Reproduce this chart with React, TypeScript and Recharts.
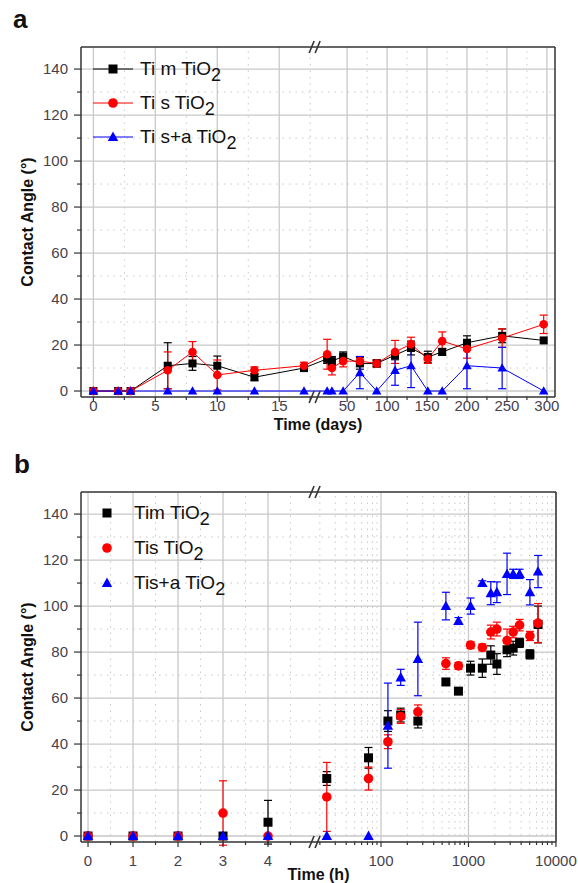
import React from "react";
import {
	ComposedChart,
	ErrorBar,
	Label,
	Legend,
	Line,
	ReferenceDot,
	ReferenceLine,
	Scatter,
	XAxis,
	YAxis,
} from "recharts";

// ---------- panel a: contact angle vs time (days) ----------
const daysA = [0, 2, 3, 6, 8, 10, 13, 17, 25, 31, 45, 66, 87, 110, 130, 151, 169, 200, 244, 296];
const timA = [0, 0, 0, 11, 12, 11, 6, 10, 14, 13, 15, 12, 12, 15.6, 18.7, 14.8, 17, 21, 24, 22];
const timErrA = [0, 0, 0, 10, 3, 4.2, 1.5, 1.5, 2, 2, 2, 2.5, 1.5, 2, 3, 2.5, 1.5, 3, 3, 0];
const tisA = [0, 0, 0, 9, 17, 7, 9, 11, 16, 10, 13, 13, 12, 17, 20.4, 14, 21.7, 18.3, 23, 29];
const tisErrA = [0, 0, 0, 8, 4.5, 6.5, 1.5, 1.5, 6.5, 3, 2.5, 2, 1.5, 5, 3, 2, 4, 4, 4, 4];
const tisaA = [0, 0, 0, 0, 0, 0, 0, 0, 0, 0, 0, 8, 0, 9, 11, 0, 0, 11, 10, 0];
const tisaErrA = [0, 0, 0, 0, 0, 0, 0, 0, 0, 0, 0, 7, 0, 6.5, 9.5, 0, 0, 10, 9, 0];

// ---------- panel b: contact angle vs time (hours) ----------
const hoursB = [0, 1, 2, 3, 4, 24, 72, 120, 168, 264, 552, 768, 1056, 1440, 1800, 2112, 2760, 3240, 3840, 5040, 6240];
const timB = [0, 0, 0, 0, 6, 25, 34, 50, 52.6, 50, 67, 63, 73, 73, 78.7, 74.8, 81, 81.7, 84, 79, 92];
const timErrB = [0, 0, 0, 0, 9.5, 3, 4.5, 4.5, 3, 3, 1, 1, 3, 4, 4, 4.5, 3, 3, 2, 2, 8];
const tisB = [0, 0, 0, 10, 0, 17, 25, 41, 52, 54, 75, 74, 83, 82, 88.7, 90, 85, 88.7, 91.7, 87, 92.6];
const tisErrB = [0, 0, 0, 14, 0, 15, 5, 3, 3, 3, 2.5, 1.5, 1.5, 1.5, 3, 3, 5, 2.5, 2.5, 2, 8.5];
const tisaB = [0, 0, 0, 0, 0, 0, 0, 48, 69, 77, 100, 93.5, 100, 110, 105.6, 106, 114, 114, 114, 106, 115];
const tisaErrB = [0, 0, 0, 0, 0, 0, 0, 18.5, 3.5, 16, 6, 1.5, 3.5, 1, 5, 4.5, 9, 2, 2, 5.5, 7];

// tick labels
const xMajorA = [0, 5, 10, 15, 50, 100, 150, 200, 250, 300];
const xMinorA = [2.5, 7.5, 12.5, 17.5, 75, 125, 175, 225, 275];
const xMajorB = [0, 1, 2, 3, 4, 100, 1000, 10000];
const xMinorB = [
	0.5, 1.5, 2.5, 3.5, 4.5, 20, 30, 40, 50, 60, 70, 80, 90, 200, 300, 400, 500, 600, 700, 800, 900,
	2000, 3000, 4000, 5000, 6000, 7000, 8000, 9000,
];
const yMajor = [0, 20, 40, 60, 80, 100, 120, 140];
const yMinor = [10, 30, 50, 70, 90, 110, 130];

const FONT = '"Liberation Sans", Arial, Helvetica, sans-serif';
const TICK_COLOR = "#463f4c";
const AXIS_COLOR = "#333333";
const GRID_COLOR = "#c9c9c9";
const Y_MIN = -2.6;
const Y_MAX = 149.6;

// broken axis in panel a: linear 0-18 d, then a compressed linear scale
const toUa = (t: number): number => (t <= 18 ? t : 20.48 + (t - 50) * 0.0645);
// broken axis in panel b: linear 0-5 h, then log10
const toUb = (t: number): number => (t <= 5 ? t : 6.511 + (Math.log10(t) - 2) * 1.944);

const X_DOMAIN_A: [number, number] = [-1, 37.26];
const X_DOMAIN_B: [number, number] = [-0.156, 10.4];
const BREAK_A = 18.06;
const BREAK_B = 5.09;

const rowsA = daysA.map((d, i) => ({
	u: toUa(d),
	tim: timA[i],
	timErr: timErrA[i],
	tis: tisA[i],
	tisErr: tisErrA[i],
	tisa: tisaA[i],
	tisaErr: tisaErrA[i],
}));

const rowsB = hoursB.map((h, i) => ({
	u: toUb(h),
	tim: timB[i],
	timErr: timErrB[i],
	tis: tisB[i],
	tisErr: tisErrB[i],
	tisa: tisaB[i],
	tisaErr: tisaErrB[i],
}));

type Shape = "square" | "circle" | "triangle";

const seriesA = [
	{ key: "tim", label: "Ti m TiO", color: "#000000", shape: "square" as Shape },
	{ key: "tis", label: "Ti s TiO", color: "#ff0000", shape: "circle" as Shape },
	{ key: "tisa", label: "Ti s+a TiO", color: "#0000ff", shape: "triangle" as Shape },
];
const seriesB = [
	{ key: "tim", label: "Tim TiO", color: "#000000", shape: "square" as Shape },
	{ key: "tis", label: "Tis TiO", color: "#ff0000", shape: "circle" as Shape },
	{ key: "tisa", label: "Tis+a TiO", color: "#0000ff", shape: "triangle" as Shape },
];

function Marker(props: { shape: Shape; cx: number; cy: number; color: string; size: number }) {
	const { shape, cx, cy, color, size } = props;
	if (cx == null || cy == null) return null;
	if (shape === "square") {
		return <rect x={cx - size / 2} y={cy - size / 2} width={size} height={size} fill={color} />;
	}
	if (shape === "circle") {
		return <circle cx={cx} cy={cy} r={size / 2 + 0.3} fill={color} />;
	}
	const w = size + 1.5;
	return (
		<polygon
			points={`${cx},${cy - size * 0.6} ${cx - w / 2},${cy + size * 0.45} ${cx + w / 2},${cy + size * 0.45}`}
			fill={color}
		/>
	);
}

// "//" symbol drawn where the x axis is broken
const BreakMark = (p: any) => (
	<g stroke={AXIS_COLOR} strokeWidth={1.6}>
		<line x1={p.cx - 8} y1={p.cy + 6} x2={p.cx - 3} y2={p.cy - 6} />
		<line x1={p.cx - 2} y1={p.cy + 6} x2={p.cx + 3} y2={p.cy - 6} />
	</g>
);

const makeXTick = (labels: Map<number, string>, labelDy: number) => (props: any) => {
	const { x, y, payload } = props;
	const label = labels.get(payload.value);
	return (
		<g>
			<line x1={x} y1={y} x2={x} y2={y + (label ? 5 : 3)} stroke={AXIS_COLOR} strokeWidth={1.2} />
			{label !== undefined && (
				<text x={x} y={y + labelDy} textAnchor="middle" fontSize={15} fill={TICK_COLOR} fontFamily={FONT}>
					{label}
				</text>
			)}
		</g>
	);
};

const YTick = (props: any) => {
	const { x, y, payload } = props;
	const major = yMajor.includes(payload.value);
	return (
		<g>
			<line x1={x} y1={y} x2={x - (major ? 7 : 4)} y2={y} stroke={AXIS_COLOR} strokeWidth={1.2} />
			{major && (
				<text x={x - 13} y={y} dy={5} textAnchor="end" fontSize={15} fill={TICK_COLOR} fontFamily={FONT}>
					{payload.value}
				</text>
			)}
		</g>
	);
};

const gridLines = (xMajor: number[], xMinor: number[]) => [
	...yMinor.map((v) => (
		<ReferenceLine key={`ym${v}`} y={v} stroke={GRID_COLOR} strokeDasharray="1.5 5" />
	)),
	...xMinor.map((v) => (
		<ReferenceLine key={`xm${v}`} x={v} stroke={GRID_COLOR} strokeDasharray="1.5 5" />
	)),
	...yMajor.map((v) => <ReferenceLine key={`yM${v}`} y={v} stroke={GRID_COLOR} strokeWidth={1.3} />),
	...xMajor.map((v) => <ReferenceLine key={`xM${v}`} x={v} stroke={GRID_COLOR} strokeWidth={1.3} />),
];

const renderLegend = (series: typeof seriesA, withLine: boolean, rowHeight: number) => () => (
	<div style={{ fontFamily: FONT }}>
		{series.map((s) => (
			<div key={s.key} style={{ display: "flex", alignItems: "center", height: rowHeight }}>
				<svg width={40} height={16} style={{ marginRight: 7 }}>
					{withLine && <line x1={0} y1={8} x2={40} y2={8} stroke={s.color} strokeWidth={1} />}
					<Marker shape={s.shape} cx={20} cy={8} color={s.color} size={9} />
				</svg>
				<span style={{ fontSize: 19, color: "#111", whiteSpace: "nowrap" }}>
					{s.label}
					<sub style={{ fontSize: "0.95em", verticalAlign: "-0.32em", lineHeight: 0 }}>2</sub>
				</span>
			</div>
		))}
	</div>
);

const yTitle = (props: any) => {
	const vb = props.viewBox;
	const cy = vb.y + vb.height / 2;
	return (
		<text
			x={27}
			y={cy}
			transform={`rotate(-90 27 ${cy})`}
			textAnchor="middle"
			dominantBaseline="central"
			fontSize={16}
			fontWeight="bold"
			fill="#111"
			fontFamily={FONT}
		>
			Contact Angle (°)
		</text>
	);
};

const xTitle = (text: string, dy: number) => (props: any) => {
	const vb = props.viewBox;
	return (
		<text
			x={vb.x + vb.width / 2}
			y={vb.y + dy}
			textAnchor="middle"
			fontSize={16}
			fontWeight="bold"
			fill="#111"
			fontFamily={FONT}
		>
			{text}
		</text>
	);
};

function PanelA() {
	const labels = new Map(xMajorA.map((v) => [toUa(v), String(v)]));
	const ticks = [...xMajorA, ...xMinorA].map(toUa);
	return (
		<ComposedChart width={578} height={440} data={rowsA} margin={{ top: 47, right: 23, bottom: 13, left: 21 }}>
			{gridLines(xMajorA.map(toUa), xMinorA.map(toUa))}
			<ReferenceLine y={Y_MAX} stroke={AXIS_COLOR} strokeWidth={1.5} ifOverflow="visible" />
			<ReferenceLine x={X_DOMAIN_A[1]} stroke={AXIS_COLOR} strokeWidth={1.5} ifOverflow="visible" />
			<XAxis
				dataKey="u"
				type="number"
				domain={X_DOMAIN_A}
				allowDataOverflow
				ticks={ticks}
				interval={0}
				tickSize={0}
				tickMargin={0}
				tickLine={false}
				height={30}
				axisLine={{ stroke: AXIS_COLOR, strokeWidth: 1.5 }}
				tick={makeXTick(labels, 14)}
			>
				<Label content={xTitle("Time (days)", 33)} />
			</XAxis>
			<YAxis
				type="number"
				domain={[Y_MIN, Y_MAX]}
				allowDataOverflow
				ticks={[...yMajor, ...yMinor]}
				interval={0}
				tickSize={0}
				tickMargin={0}
				tickLine={false}
				width={60}
				axisLine={{ stroke: AXIS_COLOR, strokeWidth: 1.5 }}
				tick={YTick}
			>
				<Label content={yTitle} />
			</YAxis>
			<Legend
				layout="horizontal"
				verticalAlign="middle"
				align="center"
				wrapperStyle={{ left: 93, top: 52, width: "auto", height: "auto" }}
				content={renderLegend(seriesA, true, 34)}
			/>
			{seriesA.map((s) => (
				<Line
					key={s.key}
					dataKey={s.key}
					stroke={s.color}
					strokeWidth={1}
					isAnimationActive={false}
					legendType="none"
					dot={(p: any) => <Marker key={`${s.key}-${p.index}`} shape={s.shape} cx={p.cx} cy={p.cy} color={s.color} size={8} />}
					activeDot={false}
				>
					<ErrorBar dataKey={`${s.key}Err`} width={4} stroke={s.color} strokeWidth={1.2} direction="y" isAnimationActive={false} />
				</Line>
			))}
			<ReferenceDot x={BREAK_A} y={Y_MAX} ifOverflow="visible" shape={BreakMark} />
			<ReferenceDot x={BREAK_A} y={Y_MIN} ifOverflow="visible" shape={BreakMark} />
		</ComposedChart>
	);
}

function PanelB() {
	const labels = new Map(xMajorB.map((v) => [toUb(v), String(v)]));
	const ticks = [...xMajorB, ...xMinorB].map(toUb);
	return (
		<ComposedChart width={578} height={443} data={rowsB} margin={{ top: 52, right: 22, bottom: 11, left: 21 }}>
			{gridLines(xMajorB.map(toUb), xMinorB.map(toUb))}
			<ReferenceLine y={Y_MAX} stroke={AXIS_COLOR} strokeWidth={1.5} ifOverflow="visible" />
			<ReferenceLine x={X_DOMAIN_B[1]} stroke={AXIS_COLOR} strokeWidth={1.5} ifOverflow="visible" />
			<XAxis
				dataKey="u"
				type="number"
				domain={X_DOMAIN_B}
				allowDataOverflow
				ticks={ticks}
				interval={0}
				tickSize={0}
				tickMargin={0}
				tickLine={false}
				height={30}
				axisLine={{ stroke: AXIS_COLOR, strokeWidth: 1.5 }}
				tick={makeXTick(labels, 24)}
			>
				<Label content={xTitle("Time (h)", 38)} />
			</XAxis>
			<YAxis
				type="number"
				domain={[Y_MIN, Y_MAX]}
				allowDataOverflow
				ticks={[...yMajor, ...yMinor]}
				interval={0}
				tickSize={0}
				tickMargin={0}
				tickLine={false}
				width={60}
				axisLine={{ stroke: AXIS_COLOR, strokeWidth: 1.5 }}
				tick={YTick}
			>
				<Label content={yTitle} />
			</YAxis>
			<Legend
				layout="horizontal"
				verticalAlign="middle"
				align="center"
				wrapperStyle={{ left: 87, top: 55, width: "auto", height: "auto" }}
				content={renderLegend(seriesB, false, 35)}
			/>
			{seriesB.map((s) => (
				<Scatter
					key={s.key}
					data={rowsB}
					dataKey={s.key}
					fill={s.color}
					isAnimationActive={false}
					legendType="none"
					shape={(p: any) => <Marker shape={s.shape} cx={p.cx} cy={p.cy} color={s.color} size={9} />}
				>
					<ErrorBar dataKey={`${s.key}Err`} width={4} stroke={s.color} strokeWidth={1.2} direction="y" isAnimationActive={false} />
				</Scatter>
			))}
			<ReferenceDot x={BREAK_B} y={Y_MAX} ifOverflow="visible" shape={BreakMark} />
			<ReferenceDot x={BREAK_B} y={Y_MIN} ifOverflow="visible" shape={BreakMark} />
		</ComposedChart>
	);
}

export default function App() {
	return (
		<div style={{ position: "absolute", left: 0, top: 0, width: 578, height: 883, background: "#fff", fontFamily: FONT }}>
			<div style={{ position: "absolute", left: 0, top: 0 }}>
				<PanelA />
			</div>
			<div style={{ position: "absolute", left: 0, top: 440 }}>
				<PanelB />
			</div>
			<div style={{ position: "absolute", left: 13, top: 4, fontSize: 26, fontWeight: "bold", color: "#111" }}>a</div>
			<div style={{ position: "absolute", left: 14, top: 449, fontSize: 26, fontWeight: "bold", color: "#111" }}>b</div>
		</div>
	);
}
